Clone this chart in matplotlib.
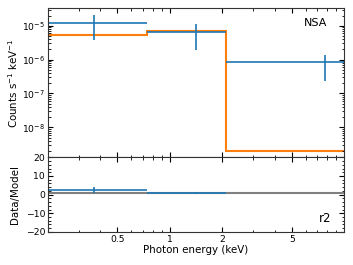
import numpy as np
import matplotlib
matplotlib.use("Agg")
import matplotlib.pyplot as plt
from matplotlib.ticker import ScalarFormatter, NullFormatter

# energy bins (keV)
bin_lo = [0.2, 0.735, 2.1]
bin_hi = [0.735, 2.1, 10.0]
# data points
e_pt = [0.365, 1.41, 7.8]
rate = [1.23e-5, 6.6e-6, 8.3e-7]
rate_lo = [3.7e-6, 1.95e-6, 2.4e-7]
rate_hi = [2.1e-5, 1.15e-5, 1.4e-6]
# model
model = [5.2e-6, 7.0e-6, 2.0e-9]

plt.rcParams['font.size'] = 7.4
plt.rcParams['xtick.labelsize'] = 6.7
plt.rcParams['ytick.labelsize'] = 6.7

fig = plt.figure(figsize=(3.53, 2.65), dpi=100)
gs = fig.add_gridspec(2, 1, height_ratios=[2, 1], hspace=0,
                      left=0.136, right=0.975, top=0.969, bottom=0.125)
ax1 = fig.add_subplot(gs[0])
ax2 = fig.add_subplot(gs[1], sharex=ax1)

rate = np.array(rate)
x_lo = np.array(e_pt) - np.array(bin_lo)
x_hi = np.array(bin_hi) - np.array(e_pt)
y_lo = rate - np.array(rate_lo)
y_hi = np.array(rate_hi) - rate

edges = bin_lo + [bin_hi[-1]]
ax1.stairs(model, edges, color='C1', lw=1.5, baseline=None)
ax1.errorbar(e_pt, rate, xerr=[x_lo, x_hi], yerr=[y_lo, y_hi],
             fmt='none', ecolor='C0', elinewidth=1.2)
ax1.set_xscale('log')
ax1.set_yscale('log')
ax1.set_ylim(1.3e-9, 3.3e-5)
ax1.set_ylabel('Counts s$^{-1}$ keV$^{-1}$', labelpad=1.5)
ax1.text(0.905, 0.9, 'NSA', transform=ax1.transAxes, ha='center', va='center',
         fontsize=8)
plt.setp(ax1.get_xticklabels(), visible=False)

ratio = rate / np.array(model)
r_lo = y_lo / np.array(model)
r_hi = y_hi / np.array(model)
ax2.axhline(1, color='gray', lw=1.5)
ax2.errorbar(e_pt, ratio, xerr=[x_lo, x_hi], yerr=[r_lo, r_hi],
             fmt='none', ecolor='C0', elinewidth=1.2)
ax2.set_ylim(-20, 20)
ax2.set_yticks([-20, -10, 0, 10, 20])
ax2.set_ylabel('Data/Model', labelpad=1.5)
ax2.set_xlabel('Photon energy (keV)', labelpad=1)
ax2.text(0.934, 0.18, 'r2', transform=ax2.transAxes, ha='center', va='center',
         fontsize=8.5)
ax2.set_xlim(0.2, 10)
ax2.set_xticks([0.5, 1, 2, 5])
ax2.xaxis.set_major_formatter(ScalarFormatter())
ax2.xaxis.set_minor_formatter(NullFormatter())
ax2.set_xticklabels(['0.5', '1', '2', '5'])

for ax in (ax1, ax2):
    ax.minorticks_on()
    ax.tick_params(which='both', direction='in', top=True, right=True, pad=2)
    ax.tick_params(which='major', length=3.5)
    ax.tick_params(which='minor', length=1.8)
    for s in ax.spines.values():
        s.set_color('#333333')

fig.align_ylabels([ax1, ax2])
fig.savefig('out.png', dpi=100)
